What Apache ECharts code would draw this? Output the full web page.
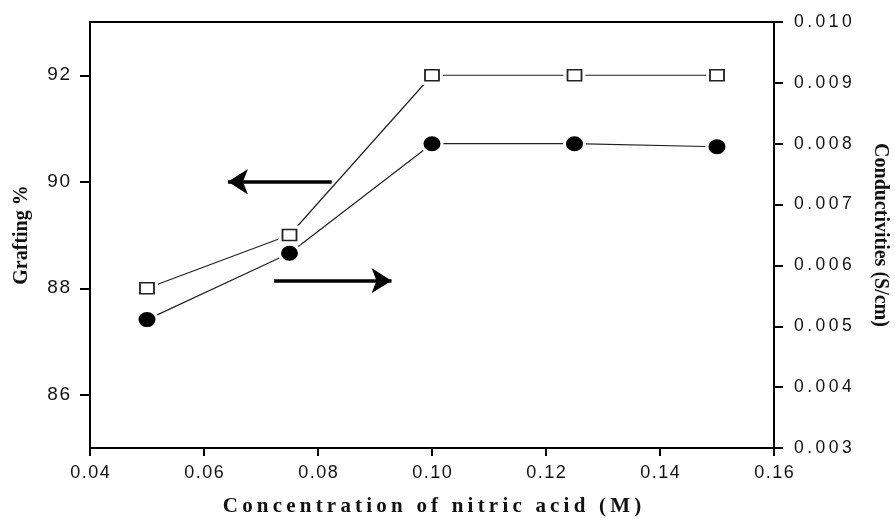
<!DOCTYPE html>
<html>
<head>
<meta charset="utf-8">
<script src="https://cdn.jsdelivr.net/npm/echarts@6/dist/echarts.min.js"></script>
<style>
  html, body { margin: 0; padding: 0; background: #fff; }
  #chart { width: 895px; height: 519px; }
</style>
</head>
<body>
<div id="chart"></div>
<script>
// Nitric acid concentration (M)
const concentration = [0.05, 0.075, 0.10, 0.125, 0.15];
// Grafting yield (%), left axis
const grafting = [88, 89, 92, 92, 92];
// Proton conductivity (S/cm), right axis
const conductivity = [0.00511, 0.0062, 0.0080, 0.0080, 0.00795];

// Axis ticks
const xTicks = [0.04, 0.06, 0.08, 0.10, 0.12, 0.14, 0.16];
const graftingTicks = [86, 88, 90, 92];
const conductivityTicks = [0.003, 0.004, 0.005, 0.006, 0.007, 0.008, 0.009, 0.010];

// Direction arrows: [fromX, toX, y]
const graftingArrow = [0.0824, 0.0642, 90];
const conductivityArrow = [0.0723, 0.0929, 0.00575];

const HAIR = '\u200A';
const THIN = '\u2009';
const spaced = (s, sep) => String(s).split('').join(sep);

const ink = '#111';
const sans = '"Liberation Sans", Arial, sans-serif';
const serif = '"Liberation Serif", "Times New Roman", serif';

const graftingPts = concentration.map((x, i) => [x, grafting[i]]);
const conductivityPts = concentration.map((x, i) => [x, conductivity[i]]);

const arrowMark = (a) => ({
  silent: true,
  animation: false,
  symbol: ['none', 'arrow'],
  symbolSize: [19, 20],
  label: { show: false },
  lineStyle: { color: '#000', width: 3.5, type: 'solid' },
  emphasis: { disabled: true },
  data: [[{ coord: [a[0], a[2]] }, { coord: [a[1], a[2]] }]]
});

const chart = echarts.init(document.getElementById('chart'), null, { renderer: 'canvas' });
chart.setOption({
  animation: false,
  backgroundColor: '#fff',
  grid: {
    left: 90, right: 121, top: 22, bottom: 71,
    containLabel: false, outerBoundsMode: 'none',
    show: true, borderColor: '#000', borderWidth: 2, backgroundColor: 'transparent'
  },
  xAxis: {
    type: 'value',
    min: xTicks[0], max: xTicks[xTicks.length - 1], interval: 0.02,
    name: spaced('Concentration of nitric acid (M)', THIN),
    nameLocation: 'middle', nameGap: 48,
    nameTextStyle: { fontFamily: serif, fontWeight: 'bold', fontSize: 21, color: ink },
    axisLine: { show: true, lineStyle: { color: '#000', width: 2 } },
    axisTick: { show: true, inside: false, length: 8, lineStyle: { color: '#000', width: 2 } },
    axisLabel: {
      margin: 16, fontFamily: sans, fontSize: 18, color: ink,
      formatter: v => spaced(v.toFixed(2), HAIR)
    },
    splitLine: { show: false }
  },
  yAxis: [
    {
      type: 'value', position: 'left',
      min: 85, max: 93, interval: 1,
      name: 'Grafting %',
      nameLocation: 'middle', nameGap: 58, nameRotate: 90,
      nameTextStyle: { fontFamily: serif, fontWeight: 'bold', fontSize: 20, color: ink },
      axisLine: { show: true, lineStyle: { color: '#000', width: 2 } },
      axisTick: { show: true, length: 10, customValues: graftingTicks, lineStyle: { color: '#000', width: 2 } },
      axisLabel: {
        margin: 20, fontFamily: sans, fontSize: 19, color: ink,
        customValues: graftingTicks,
        formatter: v => spaced(String(v), HAIR)
      },
      splitLine: { show: false }
    },
    {
      type: 'value', position: 'right',
      min: conductivityTicks[0], max: conductivityTicks[conductivityTicks.length - 1], interval: 0.001,
      name: 'Conductivities (S/cm)',
      nameLocation: 'middle', nameGap: 96, nameRotate: -90,
      nameTextStyle: { fontFamily: serif, fontWeight: 'bold', fontSize: 20, color: ink },
      axisLine: { show: true, lineStyle: { color: '#000', width: 2 } },
      axisTick: { show: true, length: 9, lineStyle: { color: '#000', width: 2 } },
      axisLabel: {
        margin: 20, fontFamily: sans, fontSize: 17.5, color: ink,
        formatter: v => spaced(v.toFixed(3), THIN)
      },
      splitLine: { show: false }
    }
  ],
  series: [
    // connecting lines, with white halos leaving a small gap at each point
    {
      type: 'line', yAxisIndex: 0, data: graftingPts, z: 2,
      symbol: 'rect', symbolSize: [22, 19], showSymbol: true,
      itemStyle: { color: '#fff', borderWidth: 0 },
      lineStyle: { color: '#222', width: 1.2 },
      emphasis: { disabled: true },
      markLine: arrowMark(graftingArrow)
    },
    {
      type: 'line', yAxisIndex: 1, data: conductivityPts, z: 2,
      symbol: 'circle', symbolSize: [23, 21], showSymbol: true,
      itemStyle: { color: '#fff', borderWidth: 0 },
      lineStyle: { color: '#222', width: 1.2 },
      emphasis: { disabled: true },
      markLine: arrowMark(conductivityArrow)
    },
    // point markers
    {
      type: 'scatter', yAxisIndex: 0, data: graftingPts, z: 4,
      symbol: 'rect', symbolSize: [14, 11],
      itemStyle: { color: '#fff', borderColor: '#222', borderWidth: 1.6, opacity: 1 },
      emphasis: { disabled: true }
    },
    {
      type: 'scatter', yAxisIndex: 1, data: conductivityPts, z: 4,
      symbol: 'circle', symbolSize: [17, 15],
      itemStyle: { color: '#000', borderWidth: 0, opacity: 1 },
      emphasis: { disabled: true }
    }
  ]
});
</script>
</body>
</html>
